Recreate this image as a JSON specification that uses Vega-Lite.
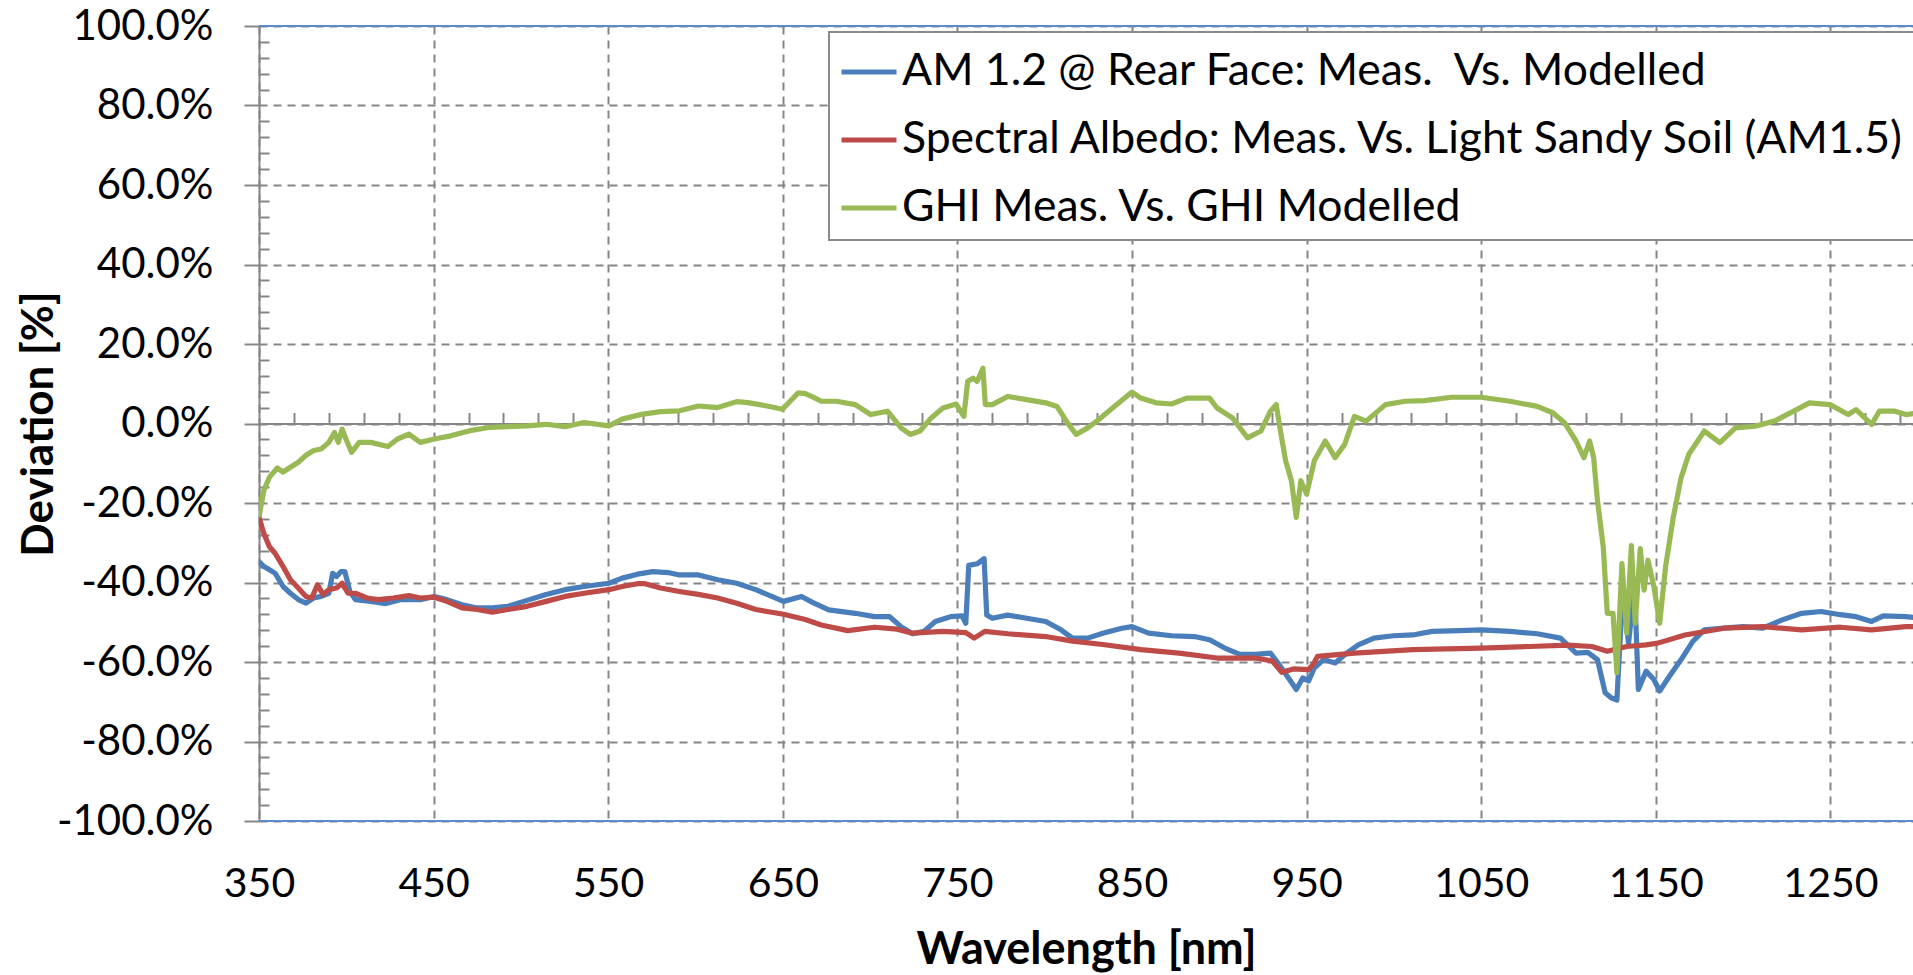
{
  "$schema": "https://vega.github.io/schema/vega-lite/v6.json",
  "width": 1654,
  "height": 795,
  "autosize": {"type": "none"},
  "padding": {"left": 259, "top": 26, "right": 0, "bottom": 154},
  "background": "white",
  "config": {
    "view": {"stroke": null},
    "font": "Lato",
    "axis": {"labelFont": "Lato", "titleFont": "Lato", "labelColor": "#000000", "titleColor": "#000000"},
    "legend": {"strokeWidth": 2}
  },
  "datasets": {
    "spectra": [
      {"series": "AM 1.2 @ Rear Face: Meas.\u00a0 Vs. Modelled", "wl": 350, "dev": -34.75},
      {"series": "AM 1.2 @ Rear Face: Meas.\u00a0 Vs. Modelled", "wl": 352.8, "dev": -36},
      {"series": "AM 1.2 @ Rear Face: Meas.\u00a0 Vs. Modelled", "wl": 356, "dev": -36.8},
      {"series": "AM 1.2 @ Rear Face: Meas.\u00a0 Vs. Modelled", "wl": 359.3, "dev": -37.7},
      {"series": "AM 1.2 @ Rear Face: Meas.\u00a0 Vs. Modelled", "wl": 363.8, "dev": -41},
      {"series": "AM 1.2 @ Rear Face: Meas.\u00a0 Vs. Modelled", "wl": 368, "dev": -42.7},
      {"series": "AM 1.2 @ Rear Face: Meas.\u00a0 Vs. Modelled", "wl": 372.5, "dev": -44.3},
      {"series": "AM 1.2 @ Rear Face: Meas.\u00a0 Vs. Modelled", "wl": 376.9, "dev": -45.2},
      {"series": "AM 1.2 @ Rear Face: Meas.\u00a0 Vs. Modelled", "wl": 381.3, "dev": -43.9},
      {"series": "AM 1.2 @ Rear Face: Meas.\u00a0 Vs. Modelled", "wl": 385.6, "dev": -43.5},
      {"series": "AM 1.2 @ Rear Face: Meas.\u00a0 Vs. Modelled", "wl": 390, "dev": -42.7},
      {"series": "AM 1.2 @ Rear Face: Meas.\u00a0 Vs. Modelled", "wl": 392.2, "dev": -37.7},
      {"series": "AM 1.2 @ Rear Face: Meas.\u00a0 Vs. Modelled", "wl": 394.4, "dev": -38.5},
      {"series": "AM 1.2 @ Rear Face: Meas.\u00a0 Vs. Modelled", "wl": 397, "dev": -37.25},
      {"series": "AM 1.2 @ Rear Face: Meas.\u00a0 Vs. Modelled", "wl": 399.2, "dev": -37.25},
      {"series": "AM 1.2 @ Rear Face: Meas.\u00a0 Vs. Modelled", "wl": 402, "dev": -42.25},
      {"series": "AM 1.2 @ Rear Face: Meas.\u00a0 Vs. Modelled", "wl": 405.2, "dev": -44.3},
      {"series": "AM 1.2 @ Rear Face: Meas.\u00a0 Vs. Modelled", "wl": 414, "dev": -44.75},
      {"series": "AM 1.2 @ Rear Face: Meas.\u00a0 Vs. Modelled", "wl": 422.7, "dev": -45.3},
      {"series": "AM 1.2 @ Rear Face: Meas.\u00a0 Vs. Modelled", "wl": 431.4, "dev": -44.3},
      {"series": "AM 1.2 @ Rear Face: Meas.\u00a0 Vs. Modelled", "wl": 442.4, "dev": -44.3},
      {"series": "AM 1.2 @ Rear Face: Meas.\u00a0 Vs. Modelled", "wl": 450.4, "dev": -43.5},
      {"series": "AM 1.2 @ Rear Face: Meas.\u00a0 Vs. Modelled", "wl": 457.6, "dev": -44.3},
      {"series": "AM 1.2 @ Rear Face: Meas.\u00a0 Vs. Modelled", "wl": 466.3, "dev": -45.6},
      {"series": "AM 1.2 @ Rear Face: Meas.\u00a0 Vs. Modelled", "wl": 475, "dev": -46.4},
      {"series": "AM 1.2 @ Rear Face: Meas.\u00a0 Vs. Modelled", "wl": 483.7, "dev": -46.4},
      {"series": "AM 1.2 @ Rear Face: Meas.\u00a0 Vs. Modelled", "wl": 492.6, "dev": -46},
      {"series": "AM 1.2 @ Rear Face: Meas.\u00a0 Vs. Modelled", "wl": 503.5, "dev": -44.5},
      {"series": "AM 1.2 @ Rear Face: Meas.\u00a0 Vs. Modelled", "wl": 514.4, "dev": -43},
      {"series": "AM 1.2 @ Rear Face: Meas.\u00a0 Vs. Modelled", "wl": 525.3, "dev": -41.8},
      {"series": "AM 1.2 @ Rear Face: Meas.\u00a0 Vs. Modelled", "wl": 536.2, "dev": -41},
      {"series": "AM 1.2 @ Rear Face: Meas.\u00a0 Vs. Modelled", "wl": 550.4, "dev": -40.2},
      {"series": "AM 1.2 @ Rear Face: Meas.\u00a0 Vs. Modelled", "wl": 558, "dev": -38.9},
      {"series": "AM 1.2 @ Rear Face: Meas.\u00a0 Vs. Modelled", "wl": 566.8, "dev": -37.9},
      {"series": "AM 1.2 @ Rear Face: Meas.\u00a0 Vs. Modelled", "wl": 575.5, "dev": -37.25},
      {"series": "AM 1.2 @ Rear Face: Meas.\u00a0 Vs. Modelled", "wl": 584.3, "dev": -37.5},
      {"series": "AM 1.2 @ Rear Face: Meas.\u00a0 Vs. Modelled", "wl": 590.8, "dev": -38.1},
      {"series": "AM 1.2 @ Rear Face: Meas.\u00a0 Vs. Modelled", "wl": 601.7, "dev": -38.1},
      {"series": "AM 1.2 @ Rear Face: Meas.\u00a0 Vs. Modelled", "wl": 612.7, "dev": -39.3},
      {"series": "AM 1.2 @ Rear Face: Meas.\u00a0 Vs. Modelled", "wl": 623.6, "dev": -40.2},
      {"series": "AM 1.2 @ Rear Face: Meas.\u00a0 Vs. Modelled", "wl": 634.5, "dev": -41.8},
      {"series": "AM 1.2 @ Rear Face: Meas.\u00a0 Vs. Modelled", "wl": 650.4, "dev": -44.75},
      {"series": "AM 1.2 @ Rear Face: Meas.\u00a0 Vs. Modelled", "wl": 660.7, "dev": -43.5},
      {"series": "AM 1.2 @ Rear Face: Meas.\u00a0 Vs. Modelled", "wl": 667, "dev": -45},
      {"series": "AM 1.2 @ Rear Face: Meas.\u00a0 Vs. Modelled", "wl": 676.3, "dev": -46.9},
      {"series": "AM 1.2 @ Rear Face: Meas.\u00a0 Vs. Modelled", "wl": 691.5, "dev": -47.75},
      {"series": "AM 1.2 @ Rear Face: Meas.\u00a0 Vs. Modelled", "wl": 702.5, "dev": -48.6},
      {"series": "AM 1.2 @ Rear Face: Meas.\u00a0 Vs. Modelled", "wl": 711.2, "dev": -48.6},
      {"series": "AM 1.2 @ Rear Face: Meas.\u00a0 Vs. Modelled", "wl": 717.7, "dev": -51.1},
      {"series": "AM 1.2 @ Rear Face: Meas.\u00a0 Vs. Modelled", "wl": 724.3, "dev": -52.9},
      {"series": "AM 1.2 @ Rear Face: Meas.\u00a0 Vs. Modelled", "wl": 730.8, "dev": -52.3},
      {"series": "AM 1.2 @ Rear Face: Meas.\u00a0 Vs. Modelled", "wl": 737.4, "dev": -49.8},
      {"series": "AM 1.2 @ Rear Face: Meas.\u00a0 Vs. Modelled", "wl": 746, "dev": -48.6},
      {"series": "AM 1.2 @ Rear Face: Meas.\u00a0 Vs. Modelled", "wl": 752.6, "dev": -48.4},
      {"series": "AM 1.2 @ Rear Face: Meas.\u00a0 Vs. Modelled", "wl": 754.8, "dev": -50.25},
      {"series": "AM 1.2 @ Rear Face: Meas.\u00a0 Vs. Modelled", "wl": 756.5, "dev": -35.7},
      {"series": "AM 1.2 @ Rear Face: Meas.\u00a0 Vs. Modelled", "wl": 761.3, "dev": -35.3},
      {"series": "AM 1.2 @ Rear Face: Meas.\u00a0 Vs. Modelled", "wl": 765.3, "dev": -34},
      {"series": "AM 1.2 @ Rear Face: Meas.\u00a0 Vs. Modelled", "wl": 766.8, "dev": -48.2},
      {"series": "AM 1.2 @ Rear Face: Meas.\u00a0 Vs. Modelled", "wl": 770, "dev": -49},
      {"series": "AM 1.2 @ Rear Face: Meas.\u00a0 Vs. Modelled", "wl": 778.8, "dev": -48.2},
      {"series": "AM 1.2 @ Rear Face: Meas.\u00a0 Vs. Modelled", "wl": 789.7, "dev": -49},
      {"series": "AM 1.2 @ Rear Face: Meas.\u00a0 Vs. Modelled", "wl": 800.6, "dev": -49.8},
      {"series": "AM 1.2 @ Rear Face: Meas.\u00a0 Vs. Modelled", "wl": 809.3, "dev": -51.9},
      {"series": "AM 1.2 @ Rear Face: Meas.\u00a0 Vs. Modelled", "wl": 815.9, "dev": -54},
      {"series": "AM 1.2 @ Rear Face: Meas.\u00a0 Vs. Modelled", "wl": 824.6, "dev": -54},
      {"series": "AM 1.2 @ Rear Face: Meas.\u00a0 Vs. Modelled", "wl": 833.3, "dev": -52.75},
      {"series": "AM 1.2 @ Rear Face: Meas.\u00a0 Vs. Modelled", "wl": 844.2, "dev": -51.5},
      {"series": "AM 1.2 @ Rear Face: Meas.\u00a0 Vs. Modelled", "wl": 850, "dev": -51.1},
      {"series": "AM 1.2 @ Rear Face: Meas.\u00a0 Vs. Modelled", "wl": 859.5, "dev": -52.75},
      {"series": "AM 1.2 @ Rear Face: Meas.\u00a0 Vs. Modelled", "wl": 872.6, "dev": -53.4},
      {"series": "AM 1.2 @ Rear Face: Meas.\u00a0 Vs. Modelled", "wl": 885.7, "dev": -53.6},
      {"series": "AM 1.2 @ Rear Face: Meas.\u00a0 Vs. Modelled", "wl": 894.4, "dev": -54.4},
      {"series": "AM 1.2 @ Rear Face: Meas.\u00a0 Vs. Modelled", "wl": 903.1, "dev": -56.5},
      {"series": "AM 1.2 @ Rear Face: Meas.\u00a0 Vs. Modelled", "wl": 911.8, "dev": -58.1},
      {"series": "AM 1.2 @ Rear Face: Meas.\u00a0 Vs. Modelled", "wl": 920.6, "dev": -58.1},
      {"series": "AM 1.2 @ Rear Face: Meas.\u00a0 Vs. Modelled", "wl": 929.3, "dev": -57.75},
      {"series": "AM 1.2 @ Rear Face: Meas.\u00a0 Vs. Modelled", "wl": 933.6, "dev": -60.25},
      {"series": "AM 1.2 @ Rear Face: Meas.\u00a0 Vs. Modelled", "wl": 940.2, "dev": -64.4},
      {"series": "AM 1.2 @ Rear Face: Meas.\u00a0 Vs. Modelled", "wl": 944.1, "dev": -66.9},
      {"series": "AM 1.2 @ Rear Face: Meas.\u00a0 Vs. Modelled", "wl": 947.8, "dev": -64},
      {"series": "AM 1.2 @ Rear Face: Meas.\u00a0 Vs. Modelled", "wl": 951.1, "dev": -64.8},
      {"series": "AM 1.2 @ Rear Face: Meas.\u00a0 Vs. Modelled", "wl": 954.4, "dev": -61.5},
      {"series": "AM 1.2 @ Rear Face: Meas.\u00a0 Vs. Modelled", "wl": 959.8, "dev": -59.4},
      {"series": "AM 1.2 @ Rear Face: Meas.\u00a0 Vs. Modelled", "wl": 966.3, "dev": -60.25},
      {"series": "AM 1.2 @ Rear Face: Meas.\u00a0 Vs. Modelled", "wl": 973, "dev": -57.75},
      {"series": "AM 1.2 @ Rear Face: Meas.\u00a0 Vs. Modelled", "wl": 979.6, "dev": -55.7},
      {"series": "AM 1.2 @ Rear Face: Meas.\u00a0 Vs. Modelled", "wl": 988.5, "dev": -54},
      {"series": "AM 1.2 @ Rear Face: Meas.\u00a0 Vs. Modelled", "wl": 999.7, "dev": -53.4},
      {"series": "AM 1.2 @ Rear Face: Meas.\u00a0 Vs. Modelled", "wl": 1010.8, "dev": -53.2},
      {"series": "AM 1.2 @ Rear Face: Meas.\u00a0 Vs. Modelled", "wl": 1021.9, "dev": -52.3},
      {"series": "AM 1.2 @ Rear Face: Meas.\u00a0 Vs. Modelled", "wl": 1037.5, "dev": -52.1},
      {"series": "AM 1.2 @ Rear Face: Meas.\u00a0 Vs. Modelled", "wl": 1050, "dev": -51.9},
      {"series": "AM 1.2 @ Rear Face: Meas.\u00a0 Vs. Modelled", "wl": 1066.5, "dev": -52.3},
      {"series": "AM 1.2 @ Rear Face: Meas.\u00a0 Vs. Modelled", "wl": 1082.1, "dev": -52.9},
      {"series": "AM 1.2 @ Rear Face: Meas.\u00a0 Vs. Modelled", "wl": 1095.4, "dev": -54},
      {"series": "AM 1.2 @ Rear Face: Meas.\u00a0 Vs. Modelled", "wl": 1104.3, "dev": -57.75},
      {"series": "AM 1.2 @ Rear Face: Meas.\u00a0 Vs. Modelled", "wl": 1111, "dev": -57.6},
      {"series": "AM 1.2 @ Rear Face: Meas.\u00a0 Vs. Modelled", "wl": 1116.6, "dev": -59.4},
      {"series": "AM 1.2 @ Rear Face: Meas.\u00a0 Vs. Modelled", "wl": 1121, "dev": -67.75},
      {"series": "AM 1.2 @ Rear Face: Meas.\u00a0 Vs. Modelled", "wl": 1124.4, "dev": -69},
      {"series": "AM 1.2 @ Rear Face: Meas.\u00a0 Vs. Modelled", "wl": 1127.7, "dev": -69.6},
      {"series": "AM 1.2 @ Rear Face: Meas.\u00a0 Vs. Modelled", "wl": 1131, "dev": -42.75},
      {"series": "AM 1.2 @ Rear Face: Meas.\u00a0 Vs. Modelled", "wl": 1134.4, "dev": -55.25},
      {"series": "AM 1.2 @ Rear Face: Meas.\u00a0 Vs. Modelled", "wl": 1137.8, "dev": -41},
      {"series": "AM 1.2 @ Rear Face: Meas.\u00a0 Vs. Modelled", "wl": 1140, "dev": -66.9},
      {"series": "AM 1.2 @ Rear Face: Meas.\u00a0 Vs. Modelled", "wl": 1144.4, "dev": -62.3},
      {"series": "AM 1.2 @ Rear Face: Meas.\u00a0 Vs. Modelled", "wl": 1148.9, "dev": -64.4},
      {"series": "AM 1.2 @ Rear Face: Meas.\u00a0 Vs. Modelled", "wl": 1152.2, "dev": -67.3},
      {"series": "AM 1.2 @ Rear Face: Meas.\u00a0 Vs. Modelled", "wl": 1157.8, "dev": -63.6},
      {"series": "AM 1.2 @ Rear Face: Meas.\u00a0 Vs. Modelled", "wl": 1164.5, "dev": -59.4},
      {"series": "AM 1.2 @ Rear Face: Meas.\u00a0 Vs. Modelled", "wl": 1171.2, "dev": -54.8},
      {"series": "AM 1.2 @ Rear Face: Meas.\u00a0 Vs. Modelled", "wl": 1177.8, "dev": -51.9},
      {"series": "AM 1.2 @ Rear Face: Meas.\u00a0 Vs. Modelled", "wl": 1189, "dev": -51.5},
      {"series": "AM 1.2 @ Rear Face: Meas.\u00a0 Vs. Modelled", "wl": 1200.1, "dev": -51.1},
      {"series": "AM 1.2 @ Rear Face: Meas.\u00a0 Vs. Modelled", "wl": 1211.2, "dev": -51.5},
      {"series": "AM 1.2 @ Rear Face: Meas.\u00a0 Vs. Modelled", "wl": 1222.4, "dev": -49.4},
      {"series": "AM 1.2 @ Rear Face: Meas.\u00a0 Vs. Modelled", "wl": 1233.5, "dev": -47.75},
      {"series": "AM 1.2 @ Rear Face: Meas.\u00a0 Vs. Modelled", "wl": 1244.7, "dev": -47.3},
      {"series": "AM 1.2 @ Rear Face: Meas.\u00a0 Vs. Modelled", "wl": 1255.8, "dev": -48.1},
      {"series": "AM 1.2 @ Rear Face: Meas.\u00a0 Vs. Modelled", "wl": 1264.7, "dev": -48.6},
      {"series": "AM 1.2 @ Rear Face: Meas.\u00a0 Vs. Modelled", "wl": 1273.6, "dev": -49.8},
      {"series": "AM 1.2 @ Rear Face: Meas.\u00a0 Vs. Modelled", "wl": 1280.3, "dev": -48.4},
      {"series": "AM 1.2 @ Rear Face: Meas.\u00a0 Vs. Modelled", "wl": 1293.2, "dev": -48.6},
      {"series": "AM 1.2 @ Rear Face: Meas.\u00a0 Vs. Modelled", "wl": 1298, "dev": -48.8},

      {"series": "Spectral Albedo: Meas. Vs. Light Sandy Soil (AM1.5)", "wl": 350, "dev": -23.5},
      {"series": "Spectral Albedo: Meas. Vs. Light Sandy Soil (AM1.5)", "wl": 352.8, "dev": -27.7},
      {"series": "Spectral Albedo: Meas. Vs. Light Sandy Soil (AM1.5)", "wl": 356, "dev": -31},
      {"series": "Spectral Albedo: Meas. Vs. Light Sandy Soil (AM1.5)", "wl": 359.3, "dev": -32.7},
      {"series": "Spectral Albedo: Meas. Vs. Light Sandy Soil (AM1.5)", "wl": 363.8, "dev": -36},
      {"series": "Spectral Albedo: Meas. Vs. Light Sandy Soil (AM1.5)", "wl": 368, "dev": -39.3},
      {"series": "Spectral Albedo: Meas. Vs. Light Sandy Soil (AM1.5)", "wl": 372.5, "dev": -41.4},
      {"series": "Spectral Albedo: Meas. Vs. Light Sandy Soil (AM1.5)", "wl": 376.9, "dev": -43.5},
      {"series": "Spectral Albedo: Meas. Vs. Light Sandy Soil (AM1.5)", "wl": 380.2, "dev": -43.9},
      {"series": "Spectral Albedo: Meas. Vs. Light Sandy Soil (AM1.5)", "wl": 383.5, "dev": -40.6},
      {"series": "Spectral Albedo: Meas. Vs. Light Sandy Soil (AM1.5)", "wl": 386.7, "dev": -43},
      {"series": "Spectral Albedo: Meas. Vs. Light Sandy Soil (AM1.5)", "wl": 390, "dev": -41.8},
      {"series": "Spectral Albedo: Meas. Vs. Light Sandy Soil (AM1.5)", "wl": 394.4, "dev": -41.4},
      {"series": "Spectral Albedo: Meas. Vs. Light Sandy Soil (AM1.5)", "wl": 397.6, "dev": -40.2},
      {"series": "Spectral Albedo: Meas. Vs. Light Sandy Soil (AM1.5)", "wl": 401, "dev": -42.7},
      {"series": "Spectral Albedo: Meas. Vs. Light Sandy Soil (AM1.5)", "wl": 405.2, "dev": -42.7},
      {"series": "Spectral Albedo: Meas. Vs. Light Sandy Soil (AM1.5)", "wl": 411.8, "dev": -43.9},
      {"series": "Spectral Albedo: Meas. Vs. Light Sandy Soil (AM1.5)", "wl": 418.3, "dev": -44.3},
      {"series": "Spectral Albedo: Meas. Vs. Light Sandy Soil (AM1.5)", "wl": 427, "dev": -43.9},
      {"series": "Spectral Albedo: Meas. Vs. Light Sandy Soil (AM1.5)", "wl": 435.8, "dev": -43.3},
      {"series": "Spectral Albedo: Meas. Vs. Light Sandy Soil (AM1.5)", "wl": 442.4, "dev": -43.9},
      {"series": "Spectral Albedo: Meas. Vs. Light Sandy Soil (AM1.5)", "wl": 450.4, "dev": -43.7},
      {"series": "Spectral Albedo: Meas. Vs. Light Sandy Soil (AM1.5)", "wl": 457.6, "dev": -44.75},
      {"series": "Spectral Albedo: Meas. Vs. Light Sandy Soil (AM1.5)", "wl": 466.3, "dev": -46.4},
      {"series": "Spectral Albedo: Meas. Vs. Light Sandy Soil (AM1.5)", "wl": 475, "dev": -46.8},
      {"series": "Spectral Albedo: Meas. Vs. Light Sandy Soil (AM1.5)", "wl": 483.7, "dev": -47.5},
      {"series": "Spectral Albedo: Meas. Vs. Light Sandy Soil (AM1.5)", "wl": 492.6, "dev": -46.8},
      {"series": "Spectral Albedo: Meas. Vs. Light Sandy Soil (AM1.5)", "wl": 503.5, "dev": -46},
      {"series": "Spectral Albedo: Meas. Vs. Light Sandy Soil (AM1.5)", "wl": 514.4, "dev": -44.75},
      {"series": "Spectral Albedo: Meas. Vs. Light Sandy Soil (AM1.5)", "wl": 525.3, "dev": -43.5},
      {"series": "Spectral Albedo: Meas. Vs. Light Sandy Soil (AM1.5)", "wl": 536.2, "dev": -42.7},
      {"series": "Spectral Albedo: Meas. Vs. Light Sandy Soil (AM1.5)", "wl": 550.4, "dev": -41.8},
      {"series": "Spectral Albedo: Meas. Vs. Light Sandy Soil (AM1.5)", "wl": 558, "dev": -41},
      {"series": "Spectral Albedo: Meas. Vs. Light Sandy Soil (AM1.5)", "wl": 566.8, "dev": -40.3},
      {"series": "Spectral Albedo: Meas. Vs. Light Sandy Soil (AM1.5)", "wl": 571.1, "dev": -40.3},
      {"series": "Spectral Albedo: Meas. Vs. Light Sandy Soil (AM1.5)", "wl": 580, "dev": -41.4},
      {"series": "Spectral Albedo: Meas. Vs. Light Sandy Soil (AM1.5)", "wl": 590.8, "dev": -42.25},
      {"series": "Spectral Albedo: Meas. Vs. Light Sandy Soil (AM1.5)", "wl": 601.7, "dev": -43},
      {"series": "Spectral Albedo: Meas. Vs. Light Sandy Soil (AM1.5)", "wl": 612.7, "dev": -43.9},
      {"series": "Spectral Albedo: Meas. Vs. Light Sandy Soil (AM1.5)", "wl": 623.6, "dev": -45.2},
      {"series": "Spectral Albedo: Meas. Vs. Light Sandy Soil (AM1.5)", "wl": 634.5, "dev": -46.8},
      {"series": "Spectral Albedo: Meas. Vs. Light Sandy Soil (AM1.5)", "wl": 650.4, "dev": -48},
      {"series": "Spectral Albedo: Meas. Vs. Light Sandy Soil (AM1.5)", "wl": 662.9, "dev": -49.3},
      {"series": "Spectral Albedo: Meas. Vs. Light Sandy Soil (AM1.5)", "wl": 672, "dev": -50.7},
      {"series": "Spectral Albedo: Meas. Vs. Light Sandy Soil (AM1.5)", "wl": 687.2, "dev": -52.1},
      {"series": "Spectral Albedo: Meas. Vs. Light Sandy Soil (AM1.5)", "wl": 702.5, "dev": -51.25},
      {"series": "Spectral Albedo: Meas. Vs. Light Sandy Soil (AM1.5)", "wl": 715.5, "dev": -51.75},
      {"series": "Spectral Albedo: Meas. Vs. Light Sandy Soil (AM1.5)", "wl": 724.3, "dev": -52.75},
      {"series": "Spectral Albedo: Meas. Vs. Light Sandy Soil (AM1.5)", "wl": 741.7, "dev": -52.3},
      {"series": "Spectral Albedo: Meas. Vs. Light Sandy Soil (AM1.5)", "wl": 754.8, "dev": -52.6},
      {"series": "Spectral Albedo: Meas. Vs. Light Sandy Soil (AM1.5)", "wl": 759.6, "dev": -54},
      {"series": "Spectral Albedo: Meas. Vs. Light Sandy Soil (AM1.5)", "wl": 765.7, "dev": -52.3},
      {"series": "Spectral Albedo: Meas. Vs. Light Sandy Soil (AM1.5)", "wl": 778.8, "dev": -52.9},
      {"series": "Spectral Albedo: Meas. Vs. Light Sandy Soil (AM1.5)", "wl": 800.6, "dev": -53.6},
      {"series": "Spectral Albedo: Meas. Vs. Light Sandy Soil (AM1.5)", "wl": 815.9, "dev": -54.75},
      {"series": "Spectral Albedo: Meas. Vs. Light Sandy Soil (AM1.5)", "wl": 833.3, "dev": -55.6},
      {"series": "Spectral Albedo: Meas. Vs. Light Sandy Soil (AM1.5)", "wl": 855.1, "dev": -56.9},
      {"series": "Spectral Albedo: Meas. Vs. Light Sandy Soil (AM1.5)", "wl": 876.9, "dev": -57.75},
      {"series": "Spectral Albedo: Meas. Vs. Light Sandy Soil (AM1.5)", "wl": 898.7, "dev": -59},
      {"series": "Spectral Albedo: Meas. Vs. Light Sandy Soil (AM1.5)", "wl": 920.6, "dev": -59},
      {"series": "Spectral Albedo: Meas. Vs. Light Sandy Soil (AM1.5)", "wl": 930.4, "dev": -59.75},
      {"series": "Spectral Albedo: Meas. Vs. Light Sandy Soil (AM1.5)", "wl": 935.8, "dev": -62.6},
      {"series": "Spectral Albedo: Meas. Vs. Light Sandy Soil (AM1.5)", "wl": 942.4, "dev": -61.75},
      {"series": "Spectral Albedo: Meas. Vs. Light Sandy Soil (AM1.5)", "wl": 951.1, "dev": -61.9},
      {"series": "Spectral Albedo: Meas. Vs. Light Sandy Soil (AM1.5)", "wl": 954, "dev": -60.5},
      {"series": "Spectral Albedo: Meas. Vs. Light Sandy Soil (AM1.5)", "wl": 956.2, "dev": -58.6},
      {"series": "Spectral Albedo: Meas. Vs. Light Sandy Soil (AM1.5)", "wl": 977.4, "dev": -57.75},
      {"series": "Spectral Albedo: Meas. Vs. Light Sandy Soil (AM1.5)", "wl": 1010.8, "dev": -56.9},
      {"series": "Spectral Albedo: Meas. Vs. Light Sandy Soil (AM1.5)", "wl": 1050, "dev": -56.5},
      {"series": "Spectral Albedo: Meas. Vs. Light Sandy Soil (AM1.5)", "wl": 1077.7, "dev": -56.1},
      {"series": "Spectral Albedo: Meas. Vs. Light Sandy Soil (AM1.5)", "wl": 1099.9, "dev": -55.75},
      {"series": "Spectral Albedo: Meas. Vs. Light Sandy Soil (AM1.5)", "wl": 1113.3, "dev": -56.1},
      {"series": "Spectral Albedo: Meas. Vs. Light Sandy Soil (AM1.5)", "wl": 1122.2, "dev": -57.3},
      {"series": "Spectral Albedo: Meas. Vs. Light Sandy Soil (AM1.5)", "wl": 1133.3, "dev": -56.1},
      {"series": "Spectral Albedo: Meas. Vs. Light Sandy Soil (AM1.5)", "wl": 1144.4, "dev": -55.7},
      {"series": "Spectral Albedo: Meas. Vs. Light Sandy Soil (AM1.5)", "wl": 1151.1, "dev": -55.25},
      {"series": "Spectral Albedo: Meas. Vs. Light Sandy Soil (AM1.5)", "wl": 1166.7, "dev": -53.2},
      {"series": "Spectral Albedo: Meas. Vs. Light Sandy Soil (AM1.5)", "wl": 1189, "dev": -51.5},
      {"series": "Spectral Albedo: Meas. Vs. Light Sandy Soil (AM1.5)", "wl": 1211.2, "dev": -51.1},
      {"series": "Spectral Albedo: Meas. Vs. Light Sandy Soil (AM1.5)", "wl": 1233.5, "dev": -51.9},
      {"series": "Spectral Albedo: Meas. Vs. Light Sandy Soil (AM1.5)", "wl": 1255.8, "dev": -51.25},
      {"series": "Spectral Albedo: Meas. Vs. Light Sandy Soil (AM1.5)", "wl": 1273.6, "dev": -51.9},
      {"series": "Spectral Albedo: Meas. Vs. Light Sandy Soil (AM1.5)", "wl": 1293.2, "dev": -51.1},
      {"series": "Spectral Albedo: Meas. Vs. Light Sandy Soil (AM1.5)", "wl": 1298, "dev": -51.1},

      {"series": "GHI Meas. Vs. GHI Modelled", "wl": 350, "dev": -23.5},
      {"series": "GHI Meas. Vs. GHI Modelled", "wl": 352.8, "dev": -16.8},
      {"series": "GHI Meas. Vs. GHI Modelled", "wl": 356, "dev": -13.5},
      {"series": "GHI Meas. Vs. GHI Modelled", "wl": 360.5, "dev": -11.2},
      {"series": "GHI Meas. Vs. GHI Modelled", "wl": 363.8, "dev": -12.2},
      {"series": "GHI Meas. Vs. GHI Modelled", "wl": 368, "dev": -11},
      {"series": "GHI Meas. Vs. GHI Modelled", "wl": 372.5, "dev": -9.75},
      {"series": "GHI Meas. Vs. GHI Modelled", "wl": 376.9, "dev": -8},
      {"series": "GHI Meas. Vs. GHI Modelled", "wl": 381.3, "dev": -6.8},
      {"series": "GHI Meas. Vs. GHI Modelled", "wl": 385.6, "dev": -6.4},
      {"series": "GHI Meas. Vs. GHI Modelled", "wl": 390, "dev": -4.75},
      {"series": "GHI Meas. Vs. GHI Modelled", "wl": 393.2, "dev": -2.25},
      {"series": "GHI Meas. Vs. GHI Modelled", "wl": 395.4, "dev": -4.75},
      {"series": "GHI Meas. Vs. GHI Modelled", "wl": 397.6, "dev": -1.4},
      {"series": "GHI Meas. Vs. GHI Modelled", "wl": 399.8, "dev": -3.9},
      {"series": "GHI Meas. Vs. GHI Modelled", "wl": 403, "dev": -7.25},
      {"series": "GHI Meas. Vs. GHI Modelled", "wl": 407.4, "dev": -4.75},
      {"series": "GHI Meas. Vs. GHI Modelled", "wl": 414, "dev": -4.75},
      {"series": "GHI Meas. Vs. GHI Modelled", "wl": 423.8, "dev": -5.8},
      {"series": "GHI Meas. Vs. GHI Modelled", "wl": 429.3, "dev": -3.9},
      {"series": "GHI Meas. Vs. GHI Modelled", "wl": 435.8, "dev": -2.7},
      {"series": "GHI Meas. Vs. GHI Modelled", "wl": 442.4, "dev": -4.75},
      {"series": "GHI Meas. Vs. GHI Modelled", "wl": 450.4, "dev": -3.9},
      {"series": "GHI Meas. Vs. GHI Modelled", "wl": 459.8, "dev": -3.1},
      {"series": "GHI Meas. Vs. GHI Modelled", "wl": 470.7, "dev": -1.8},
      {"series": "GHI Meas. Vs. GHI Modelled", "wl": 481.7, "dev": -1},
      {"series": "GHI Meas. Vs. GHI Modelled", "wl": 492.6, "dev": -0.8},
      {"series": "GHI Meas. Vs. GHI Modelled", "wl": 503.5, "dev": -0.6},
      {"series": "GHI Meas. Vs. GHI Modelled", "wl": 514.4, "dev": -0.2},
      {"series": "GHI Meas. Vs. GHI Modelled", "wl": 525.3, "dev": -0.8},
      {"series": "GHI Meas. Vs. GHI Modelled", "wl": 536.2, "dev": 0.25},
      {"series": "GHI Meas. Vs. GHI Modelled", "wl": 550.4, "dev": -0.6},
      {"series": "GHI Meas. Vs. GHI Modelled", "wl": 558, "dev": 1.1},
      {"series": "GHI Meas. Vs. GHI Modelled", "wl": 569, "dev": 2.3},
      {"series": "GHI Meas. Vs. GHI Modelled", "wl": 580, "dev": 3},
      {"series": "GHI Meas. Vs. GHI Modelled", "wl": 590.8, "dev": 3.2},
      {"series": "GHI Meas. Vs. GHI Modelled", "wl": 601.7, "dev": 4.4},
      {"series": "GHI Meas. Vs. GHI Modelled", "wl": 612.7, "dev": 4},
      {"series": "GHI Meas. Vs. GHI Modelled", "wl": 623.6, "dev": 5.5},
      {"series": "GHI Meas. Vs. GHI Modelled", "wl": 630, "dev": 5.25},
      {"series": "GHI Meas. Vs. GHI Modelled", "wl": 641, "dev": 4.4},
      {"series": "GHI Meas. Vs. GHI Modelled", "wl": 649.8, "dev": 3.6},
      {"series": "GHI Meas. Vs. GHI Modelled", "wl": 658.8, "dev": 7.7},
      {"series": "GHI Meas. Vs. GHI Modelled", "wl": 662.9, "dev": 7.5},
      {"series": "GHI Meas. Vs. GHI Modelled", "wl": 668, "dev": 6.5},
      {"series": "GHI Meas. Vs. GHI Modelled", "wl": 672, "dev": 5.6},
      {"series": "GHI Meas. Vs. GHI Modelled", "wl": 680.6, "dev": 5.6},
      {"series": "GHI Meas. Vs. GHI Modelled", "wl": 691.5, "dev": 4.75},
      {"series": "GHI Meas. Vs. GHI Modelled", "wl": 700.3, "dev": 2.25},
      {"series": "GHI Meas. Vs. GHI Modelled", "wl": 710, "dev": 3.1},
      {"series": "GHI Meas. Vs. GHI Modelled", "wl": 717.7, "dev": -1.1},
      {"series": "GHI Meas. Vs. GHI Modelled", "wl": 723, "dev": -2.75},
      {"series": "GHI Meas. Vs. GHI Modelled", "wl": 728.6, "dev": -1.9},
      {"series": "GHI Meas. Vs. GHI Modelled", "wl": 735, "dev": 1.4},
      {"series": "GHI Meas. Vs. GHI Modelled", "wl": 741.7, "dev": 3.9},
      {"series": "GHI Meas. Vs. GHI Modelled", "wl": 749.3, "dev": 4.9},
      {"series": "GHI Meas. Vs. GHI Modelled", "wl": 753.7, "dev": 1.8},
      {"series": "GHI Meas. Vs. GHI Modelled", "wl": 755.9, "dev": 10.6},
      {"series": "GHI Meas. Vs. GHI Modelled", "wl": 759, "dev": 11.4},
      {"series": "GHI Meas. Vs. GHI Modelled", "wl": 761.3, "dev": 10.6},
      {"series": "GHI Meas. Vs. GHI Modelled", "wl": 764.6, "dev": 13.9},
      {"series": "GHI Meas. Vs. GHI Modelled", "wl": 766, "dev": 4.75},
      {"series": "GHI Meas. Vs. GHI Modelled", "wl": 770, "dev": 4.75},
      {"series": "GHI Meas. Vs. GHI Modelled", "wl": 778.8, "dev": 6.8},
      {"series": "GHI Meas. Vs. GHI Modelled", "wl": 789.7, "dev": 6},
      {"series": "GHI Meas. Vs. GHI Modelled", "wl": 800.6, "dev": 5.2},
      {"series": "GHI Meas. Vs. GHI Modelled", "wl": 807, "dev": 4.3},
      {"series": "GHI Meas. Vs. GHI Modelled", "wl": 813.7, "dev": -0.25},
      {"series": "GHI Meas. Vs. GHI Modelled", "wl": 818, "dev": -2.75},
      {"series": "GHI Meas. Vs. GHI Modelled", "wl": 824.6, "dev": -1.1},
      {"series": "GHI Meas. Vs. GHI Modelled", "wl": 831, "dev": 1},
      {"series": "GHI Meas. Vs. GHI Modelled", "wl": 839.9, "dev": 4.3},
      {"series": "GHI Meas. Vs. GHI Modelled", "wl": 850, "dev": 7.9},
      {"series": "GHI Meas. Vs. GHI Modelled", "wl": 855, "dev": 6.4},
      {"series": "GHI Meas. Vs. GHI Modelled", "wl": 863.8, "dev": 5.2},
      {"series": "GHI Meas. Vs. GHI Modelled", "wl": 872.6, "dev": 4.9},
      {"series": "GHI Meas. Vs. GHI Modelled", "wl": 881.3, "dev": 6.4},
      {"series": "GHI Meas. Vs. GHI Modelled", "wl": 894.4, "dev": 6.4},
      {"series": "GHI Meas. Vs. GHI Modelled", "wl": 898.7, "dev": 3.9},
      {"series": "GHI Meas. Vs. GHI Modelled", "wl": 907.5, "dev": 1.4},
      {"series": "GHI Meas. Vs. GHI Modelled", "wl": 916.2, "dev": -3.6},
      {"series": "GHI Meas. Vs. GHI Modelled", "wl": 923.8, "dev": -1.9},
      {"series": "GHI Meas. Vs. GHI Modelled", "wl": 929.3, "dev": 3.1},
      {"series": "GHI Meas. Vs. GHI Modelled", "wl": 932.6, "dev": 4.75},
      {"series": "GHI Meas. Vs. GHI Modelled", "wl": 934.7, "dev": -1.1},
      {"series": "GHI Meas. Vs. GHI Modelled", "wl": 938, "dev": -9.4},
      {"series": "GHI Meas. Vs. GHI Modelled", "wl": 941.3, "dev": -14.4},
      {"series": "GHI Meas. Vs. GHI Modelled", "wl": 944.1, "dev": -23.6},
      {"series": "GHI Meas. Vs. GHI Modelled", "wl": 946.7, "dev": -14.4},
      {"series": "GHI Meas. Vs. GHI Modelled", "wl": 950, "dev": -17.75},
      {"series": "GHI Meas. Vs. GHI Modelled", "wl": 954.4, "dev": -9.4},
      {"series": "GHI Meas. Vs. GHI Modelled", "wl": 960.7, "dev": -4.4},
      {"series": "GHI Meas. Vs. GHI Modelled", "wl": 966.3, "dev": -8.6},
      {"series": "GHI Meas. Vs. GHI Modelled", "wl": 971.8, "dev": -5.25},
      {"series": "GHI Meas. Vs. GHI Modelled", "wl": 977.4, "dev": 1.8},
      {"series": "GHI Meas. Vs. GHI Modelled", "wl": 984.1, "dev": 0.6},
      {"series": "GHI Meas. Vs. GHI Modelled", "wl": 995.2, "dev": 4.75},
      {"series": "GHI Meas. Vs. GHI Modelled", "wl": 1006.3, "dev": 5.6},
      {"series": "GHI Meas. Vs. GHI Modelled", "wl": 1017.5, "dev": 5.75},
      {"series": "GHI Meas. Vs. GHI Modelled", "wl": 1033.1, "dev": 6.6},
      {"series": "GHI Meas. Vs. GHI Modelled", "wl": 1050, "dev": 6.6},
      {"series": "GHI Meas. Vs. GHI Modelled", "wl": 1066.5, "dev": 5.6},
      {"series": "GHI Meas. Vs. GHI Modelled", "wl": 1082.1, "dev": 4.3},
      {"series": "GHI Meas. Vs. GHI Modelled", "wl": 1091, "dev": 2.7},
      {"series": "GHI Meas. Vs. GHI Modelled", "wl": 1097.7, "dev": 0.2},
      {"series": "GHI Meas. Vs. GHI Modelled", "wl": 1104.3, "dev": -4.4},
      {"series": "GHI Meas. Vs. GHI Modelled", "wl": 1108.8, "dev": -8.6},
      {"series": "GHI Meas. Vs. GHI Modelled", "wl": 1112.1, "dev": -4.4},
      {"series": "GHI Meas. Vs. GHI Modelled", "wl": 1114.4, "dev": -8.6},
      {"series": "GHI Meas. Vs. GHI Modelled", "wl": 1116.6, "dev": -19.4},
      {"series": "GHI Meas. Vs. GHI Modelled", "wl": 1119.9, "dev": -31.1},
      {"series": "GHI Meas. Vs. GHI Modelled", "wl": 1122.2, "dev": -47.75},
      {"series": "GHI Meas. Vs. GHI Modelled", "wl": 1125.5, "dev": -47.75},
      {"series": "GHI Meas. Vs. GHI Modelled", "wl": 1127.7, "dev": -62.75},
      {"series": "GHI Meas. Vs. GHI Modelled", "wl": 1130.6, "dev": -35.25},
      {"series": "GHI Meas. Vs. GHI Modelled", "wl": 1133.3, "dev": -52.75},
      {"series": "GHI Meas. Vs. GHI Modelled", "wl": 1136, "dev": -30.7},
      {"series": "GHI Meas. Vs. GHI Modelled", "wl": 1138.2, "dev": -50.25},
      {"series": "GHI Meas. Vs. GHI Modelled", "wl": 1141.1, "dev": -31.5},
      {"series": "GHI Meas. Vs. GHI Modelled", "wl": 1143.3, "dev": -41.9},
      {"series": "GHI Meas. Vs. GHI Modelled", "wl": 1145.5, "dev": -34.4},
      {"series": "GHI Meas. Vs. GHI Modelled", "wl": 1148.9, "dev": -41},
      {"series": "GHI Meas. Vs. GHI Modelled", "wl": 1152.2, "dev": -50.25},
      {"series": "GHI Meas. Vs. GHI Modelled", "wl": 1155.6, "dev": -36},
      {"series": "GHI Meas. Vs. GHI Modelled", "wl": 1160, "dev": -23.6},
      {"series": "GHI Meas. Vs. GHI Modelled", "wl": 1164.5, "dev": -13.6},
      {"series": "GHI Meas. Vs. GHI Modelled", "wl": 1168.9, "dev": -7.75},
      {"series": "GHI Meas. Vs. GHI Modelled", "wl": 1177.8, "dev": -1.9},
      {"series": "GHI Meas. Vs. GHI Modelled", "wl": 1186.7, "dev": -4.8},
      {"series": "GHI Meas. Vs. GHI Modelled", "wl": 1195.6, "dev": -1.1},
      {"series": "GHI Meas. Vs. GHI Modelled", "wl": 1206.8, "dev": -0.7},
      {"series": "GHI Meas. Vs. GHI Modelled", "wl": 1217.9, "dev": 0.6},
      {"series": "GHI Meas. Vs. GHI Modelled", "wl": 1229, "dev": 3.1},
      {"series": "GHI Meas. Vs. GHI Modelled", "wl": 1238, "dev": 5.2},
      {"series": "GHI Meas. Vs. GHI Modelled", "wl": 1249.8, "dev": 4.75},
      {"series": "GHI Meas. Vs. GHI Modelled", "wl": 1260.2, "dev": 2.25},
      {"series": "GHI Meas. Vs. GHI Modelled", "wl": 1264.7, "dev": 3.5},
      {"series": "GHI Meas. Vs. GHI Modelled", "wl": 1273.6, "dev": -0.25},
      {"series": "GHI Meas. Vs. GHI Modelled", "wl": 1278, "dev": 3.1},
      {"series": "GHI Meas. Vs. GHI Modelled", "wl": 1286.9, "dev": 3.1},
      {"series": "GHI Meas. Vs. GHI Modelled", "wl": 1293.2, "dev": 2.25},
      {"series": "GHI Meas. Vs. GHI Modelled", "wl": 1298, "dev": 2.5}
    ]
  },
  "data": {"name": "spectra"},
  "resolve": {"axis": {"x": "independent", "y": "independent"}},
  "layer": [
    {
      "transform": [{"filter": "datum.series === 'AM 1.2 @ Rear Face: Meas.\u00a0 Vs. Modelled'"}],
      "mark": {"type": "line", "strokeWidth": 5.2, "strokeJoin": "round", "clip": true},
      "encoding": {
        "x": {"field": "wl", "type": "quantitative",
          "scale": {"domain": [350, 1297.3], "nice": false, "zero": false},
          "axis": {"orient": "bottom", "values": [350, 450, 550, 650, 750, 850, 950, 1050, 1150, 1250],
            "format": "d", "labelFlush": false, "labelOverlap": false,
            "domain": false, "ticks": false, "labelFontSize": 41, "labelPadding": 43,
            "grid": true, "gridDash": [8, 6], "gridColor": "#858585", "gridWidth": 2,
            "title": "Wavelength [nm]", "titleFontSize": 45, "titleFontWeight": "bold",
            "titleX": 827, "titleY": 142, "titleBaseline": "alphabetic", "titleAlign": "center"}},
        "y": {"field": "dev", "type": "quantitative",
          "scale": {"domain": [-100, 100], "nice": false, "zero": false},
          "axis": {"orient": "left", "values": [-100, -80, -60, -40, -20, 0, 20, 40, 60, 80, 100],
            "labelFlush": false, "labelOverlap": false,
            "domain": true, "domainColor": "#868686", "domainWidth": 2,
            "ticks": true, "tickSize": 15, "tickColor": "#868686", "tickWidth": 2,
            "labelFontSize": 42, "labelPadding": 31,
            "labelExpr": "(datum.value < 0 ? '-' : '') + format(abs(datum.value), '.1f') + '%'",
            "grid": true, "gridDash": [8, 6], "gridColor": "#858585", "gridWidth": 2,
            "title": "Deviation [%]", "titleFontSize": 44, "titleFontWeight": "bold",
            "titleAngle": -90, "titleX": -207, "titleY": 397.5, "titleBaseline": "alphabetic", "titleAlign": "center"}},
        "color": {"field": "series", "type": "nominal",
          "scale": {"domain": ["AM 1.2 @ Rear Face: Meas.\u00a0 Vs. Modelled", "Spectral Albedo: Meas. Vs. Light Sandy Soil (AM1.5)", "GHI Meas. Vs. GHI Modelled"],
            "range": ["#4A7EBB", "#BE4B48", "#98B954"]},
          "legend": {"orient": "none", "legendX": 570, "legendY": 6, "title": null,
            "symbolType": "stroke", "symbolSize": 3025, "symbolStrokeWidth": 5,
            "labelFont": "Lato", "labelFontSize": 44.5, "labelColor": "#000000", "labelLimit": 3000,
            "labelOffset": 3, "padding": 10, "rowPadding": 16,
            "strokeColor": "#8a8a8a", "fillColor": "#ffffff"}}
      }
    },
    {
      "transform": [{"filter": "datum.series === 'Spectral Albedo: Meas. Vs. Light Sandy Soil (AM1.5)'"}],
      "mark": {"type": "line", "strokeWidth": 5.2, "strokeJoin": "round", "clip": true},
      "encoding": {
        "x": {"field": "wl", "type": "quantitative",
          "axis": {"orient": "bottom", "offset": -397.5,
            "values": [370, 390, 410, 430, 470, 490, 510, 530, 570, 590, 610, 630, 670, 690, 710, 730, 770, 790, 810, 830, 870, 890, 910, 930, 970, 990, 1010, 1030, 1070, 1090, 1110, 1130, 1170, 1190, 1210, 1230, 1270, 1290],
            "domain": true, "domainColor": "#868686", "domainWidth": 2,
            "ticks": true, "tickSize": -11, "tickColor": "#868686", "tickWidth": 2,
            "labels": false, "grid": false, "title": null}},
        "y": {"field": "dev", "type": "quantitative",
          "axis": {"orient": "left",
            "values": [-96, -92, -88, -84, -76, -72, -68, -64, -56, -52, -48, -44, -36, -32, -28, -24, -16, -12, -8, -4, 4, 8, 12, 16, 24, 28, 32, 36, 44, 48, 52, 56, 64, 68, 72, 76, 84, 88, 92, 96],
            "domain": false, "ticks": true, "tickSize": -10, "tickColor": "#868686", "tickWidth": 2,
            "labels": false, "grid": false, "title": null}},
        "color": {"field": "series", "type": "nominal",
          "scale": {"domain": ["AM 1.2 @ Rear Face: Meas.\u00a0 Vs. Modelled", "Spectral Albedo: Meas. Vs. Light Sandy Soil (AM1.5)", "GHI Meas. Vs. GHI Modelled"],
            "range": ["#4A7EBB", "#BE4B48", "#98B954"]}}
      }
    },
    {
      "transform": [{"filter": "datum.series === 'GHI Meas. Vs. GHI Modelled'"}],
      "mark": {"type": "line", "strokeWidth": 5.2, "strokeJoin": "round", "clip": true},
      "encoding": {
        "x": {"field": "wl", "type": "quantitative", "axis": null},
        "y": {"field": "dev", "type": "quantitative", "axis": null},
        "color": {"field": "series", "type": "nominal",
          "scale": {"domain": ["AM 1.2 @ Rear Face: Meas.\u00a0 Vs. Modelled", "Spectral Albedo: Meas. Vs. Light Sandy Soil (AM1.5)", "GHI Meas. Vs. GHI Modelled"],
            "range": ["#4A7EBB", "#BE4B48", "#98B954"]}}
      }
    },
    {
      "mark": {"type": "rule", "color": "#5B8BCB", "strokeWidth": 2},
      "encoding": {"y": {"datum": 100, "type": "quantitative", "axis": null}}
    },
    {
      "mark": {"type": "rule", "color": "#5B8BCB", "strokeWidth": 2},
      "encoding": {"y": {"datum": -100, "type": "quantitative", "axis": null}}
    }
  ]
}
